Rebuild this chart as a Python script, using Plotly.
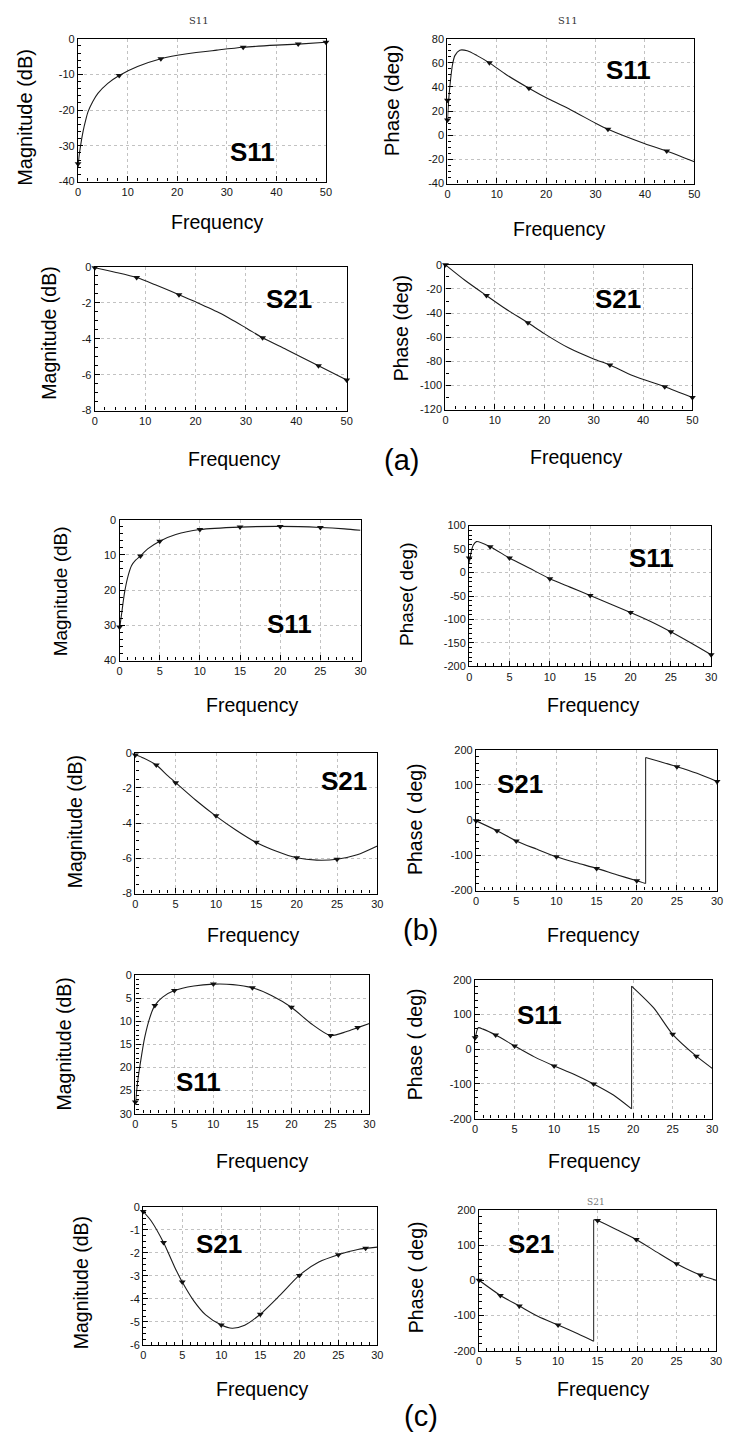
import plotly.graph_objects as go

W, H = 731, 1441

# ---------------- data ----------------
# (a) S11 magnitude
a_s11_mag_f = [0, 0.2, 0.5, 1, 1.5, 2, 3, 4, 6, 8.3, 12, 16.7, 22, 28, 33.3, 40, 44.4, 50]
a_s11_mag_v = [-36, -33, -30, -26, -23, -20.5, -17.5, -15.3, -12.5, -10.3, -7.8, -5.6, -4.2, -3.2, -2.4, -1.8, -1.5, -1.0]
a_s11_mag_mf = [0, 8.3, 16.7, 33.3, 44.4, 50]
a_s11_mag_mv = [-35, -10.3, -5.6, -2.4, -1.5, -1.0]
# (a) S11 phase
a_s11_ph_f = [0, 0.1, 0.3, 0.6, 1, 1.5, 2.5, 4, 6, 8.5, 12, 16.5, 20.5, 25, 30, 32.5, 40, 44.4, 50]
a_s11_ph_v = [12, 20, 32, 45, 58, 66, 70.5, 70, 66, 60, 50, 39, 30, 21, 10, 5, -7, -13, -22]
a_s11_ph_mf = [0, 0, 8.5, 16.5, 32.5, 44.4]
a_s11_ph_mv = [12.7, 29, 60, 39, 5, -13]
# (a) S21 magnitude
a_s21_mag_f = [0, 4, 8.3, 12, 16.7, 20, 25, 30, 33.3, 38, 44.4, 50]
a_s21_mag_v = [-0.05, -0.3, -0.6, -1.0, -1.55, -1.95, -2.6, -3.4, -3.95, -4.6, -5.5, -6.3]
a_s21_mag_mf = [0, 8.3, 16.7, 33.3, 44.4, 50]
a_s21_mag_mv = [-0.05, -0.6, -1.55, -3.95, -5.5, -6.3]
# (a) S21 phase
a_s21_ph_f = [0, 4, 8.3, 12, 16.7, 20, 25, 30, 33.3, 38, 44.4, 50]
a_s21_ph_v = [0, -13, -25.5, -36, -48, -57, -69, -78, -83, -92, -101, -110]
a_s21_ph_mf = [0, 8.3, 16.7, 33.3, 44.4, 50]
a_s21_ph_mv = [0, -25.5, -48, -83, -101, -110]

# (b) S11 magnitude
b_s11_mag_f = [0, 0.3, 0.6, 1, 1.5, 2, 2.6, 3.5, 5, 7, 10, 15, 20, 25, 28, 30]
b_s11_mag_v = [-31, -26, -21, -16.5, -13, -11.5, -10.3, -8.3, -6.1, -4.2, -2.8, -2.1, -1.9, -2.2, -2.6, -3.0]
b_s11_mag_mf = [0, 2.6, 5, 10, 15, 20, 25]
b_s11_mag_mv = [-30.5, -10.3, -6.1, -2.8, -2.1, -1.9, -2.2]
# (b) S11 phase
b_s11_ph_f = [0, 0.2, 0.5, 0.9, 2.6, 5, 7.5, 10, 12.5, 15, 17.5, 20, 22.5, 25, 27.5, 30]
b_s11_ph_v = [20, 40, 58, 66, 55, 31, 9, -13, -31, -49, -67, -85, -104, -126, -150, -175]
b_s11_ph_mf = [0, 2.6, 5, 10, 15, 20, 25, 30]
b_s11_ph_mv = [31, 55, 31, -13, -49, -85, -126, -175]
# (b) S21 magnitude
b_s21_mag_f = [0, 1, 2.6, 4, 5, 7.5, 10, 12.5, 15, 17.5, 20, 22.5, 25, 27.5, 30]
b_s21_mag_v = [-0.1, -0.3, -0.7, -1.3, -1.7, -2.7, -3.6, -4.4, -5.1, -5.6, -5.97, -6.1, -6.05, -5.8, -5.3]
b_s21_mag_mf = [0, 2.6, 5, 10, 15, 20, 25]
b_s21_mag_mv = [-0.13, -0.7, -1.7, -3.58, -5.08, -5.97, -6.05]
# (b) S21 phase (two branches, wrapped at +-180)
b_s21_ph_f1 = [0, 2.6, 5, 7.5, 10, 12.5, 15, 17.5, 20, 21.1]
b_s21_ph_v1 = [-2, -30, -59, -82, -104, -121, -137, -155, -172, -180]
b_s21_ph_f2 = [21.1, 25, 27.5, 30]
b_s21_ph_v2 = [178, 152, 133, 110]
b_s21_ph_mf = [0, 2.6, 5, 10, 15, 20, 25, 30]
b_s21_ph_mv = [-2, -30, -59, -104, -137, -172, 152, 110]

# (c) S11 magnitude
c_s11_mag_f = [0, 0.3, 0.6, 1.2, 2, 2.5, 3.5, 5, 7.5, 10, 12.5, 15, 17.5, 20, 22.5, 25, 27, 28.5, 30]
c_s11_mag_v = [-28, -23, -19.5, -13.5, -8.5, -6.6, -4.8, -3.4, -2.4, -2.0, -2.1, -2.8, -4.5, -7.0, -10.5, -13.1, -12.3, -11.4, -10.5]
c_s11_mag_mf = [0, 2.5, 5, 10, 15, 20, 25, 28.5]
c_s11_mag_mv = [-27.5, -6.6, -3.4, -2.0, -2.8, -7.0, -13.1, -11.4]
# (c) S11 phase
c_s11_ph_f1 = [0, 0.4, 1, 2.6, 5, 7.5, 10, 12.5, 15, 17.5, 19.8]
c_s11_ph_v1 = [30, 62, 58, 41, 9.5, -22, -48, -72, -100, -132, -172]
c_s11_ph_f2 = [19.8, 22.6, 25, 28, 30]
c_s11_ph_v2 = [182, 119, 43, -20, -55]
c_s11_ph_mf = [0, 2.6, 5, 10, 15, 25, 28]
c_s11_ph_mv = [33, 41, 9.5, -48, -100, 43, -20]
# (c) S21 magnitude
c_s21_mag_f = [0, 1, 2.6, 4, 5, 6.5, 8, 10, 11.4, 13, 15, 17.5, 20, 22.5, 25, 27.5, 30]
c_s21_mag_v = [-0.2, -0.6, -1.55, -2.6, -3.27, -4.1, -4.7, -5.14, -5.28, -5.15, -4.67, -3.85, -2.98, -2.4, -2.08, -1.85, -1.75]
c_s21_mag_mf = [0, 2.6, 5, 10, 15, 20, 25, 28.5]
c_s21_mag_mv = [-0.2, -1.55, -3.27, -5.14, -4.67, -2.98, -2.08, -1.8]
# (c) S21 phase
c_s21_ph_f1 = [0, 2.7, 5.1, 7.5, 10, 12.5, 14.5]
c_s21_ph_v1 = [0, -43, -73, -103, -127, -152, -173]
c_s21_ph_f2 = [14.5, 15, 17.5, 19.9, 22.5, 24.8, 28, 30]
c_s21_ph_v2 = [172, 170, 143, 116, 80, 49, 15, 0]
c_s21_ph_mf = [0, 2.7, 5.1, 10, 15, 19.9, 25, 28]
c_s21_ph_mv = [0, -43, -73, -127, 170, 116, 47, 15]

# ---------------- tick labels ----------------
freq50_vals = [0, 10, 20, 30, 40, 50]
freq50_text = ["0", "10", "20", "30", "40", "50"]
freq30_vals = [0, 5, 10, 15, 20, 25, 30]
freq30_text = ["0", "5", "10", "15", "20", "25", "30"]
a_mag11_vals = [0, -10, -20, -30, -40]
a_mag11_text = ["0", "-10", "-20", "-30", "-40"]
a_ph11_vals = [80, 60, 40, 20, 0, -20, -40]
a_ph11_text = ["80", "60", "40", "20", "0", "-20", "-40"]
mag8_vals = [0, -2, -4, -6, -8]
mag8_text = ["0", "-2", "-4", "-6", "-8"]
a_ph21_vals = [0, -20, -40, -60, -80, -100, -120]
a_ph21_text = ["0", "-20", "-40", "-60", "-80", "-100", "-120"]
b_mag11_vals = [0, -10, -20, -30, -40]
b_mag11_text = ["0", "10", "20", "30", "40"]
b_ph11_vals = [100, 50, 0, -50, -100, -150, -200]
b_ph11_text = ["100", "50", "0", "-50", "-100", "-150", "-200"]
ph200_vals = [200, 100, 0, -100, -200]
ph200_text = ["200", "100", "0", "-100", "-200"]
c_mag11_vals = [0, -5, -10, -15, -20, -25, -30]
c_mag11_text = ["0", "5", "10", "15", "20", "25", "30"]
c_mag21_vals = [0, -1, -2, -3, -4, -5, -6]
c_mag21_text = ["0", "-1", "-2", "-3", "-4", "-5", "-6"]

# ---------------- panels (layout in pixels) ----------------
panels = [
    dict(box=(76, 327, 33, 177), xr=[0, 50], yr=[-40, 0], xt=(freq50_vals, freq50_text), yt=(a_mag11_vals, a_mag11_text),
         xm=2, ym=2, curves=[(a_s11_mag_f, a_s11_mag_v)], marks=(a_s11_mag_mf, a_s11_mag_mv),
         ylab=("Magnitude (dB)", 22, 112, 20), flab=(217, 218), big=("S11", 253, 147), title=("S11", 198, 15)),
    dict(box=(450, 700, 33, 179), xr=[0, 50], yr=[-40, 80], xt=(freq50_vals, freq50_text), yt=(a_ph11_vals, a_ph11_text),
         xm=2, ym=5, curves=[(a_s11_ph_f, a_s11_ph_v)], marks=(a_s11_ph_mf, a_s11_ph_mv),
         ylab=("Phase (deg)", 393, 95, 20.5), flab=(563, 225), big=("S11", 633, 65), title=("S11", 572, 15)),
    dict(box=(93, 348, 263, 408), xr=[0, 50], yr=[-8, 0], xt=(freq50_vals, freq50_text), yt=(mag8_vals, mag8_text),
         xm=2, ym=0.5, curves=[(a_s21_mag_f, a_s21_mag_v)], marks=(a_s21_mag_mf, a_s21_mag_mv),
         ylab=("Magnitude (dB)", 47, 330, 19.5), flab=(234, 457), big=("S21", 290, 295)),
    dict(box=(448, 698, 261, 407), xr=[0, 50], yr=[-120, 0], xt=(freq50_vals, freq50_text), yt=(a_ph21_vals, a_ph21_text),
         xm=2, ym=10, curves=[(a_s21_ph_f, a_s21_ph_v)], marks=(a_s21_ph_mf, a_s21_ph_mv),
         ylab=("Phase (deg)", 403, 325, 19.5), flab=(580, 455), big=("S21", 623, 295)),
    dict(box=(118, 362, 518, 660), xr=[0, 30], yr=[-40, 0], xt=(freq30_vals, freq30_text), yt=(b_mag11_vals, b_mag11_text),
         xm=1, ym=2, curves=[(b_s11_mag_f, b_s11_mag_v)], marks=(b_s11_mag_mf, b_s11_mag_mv),
         ylab=("Magnitude (dB)", 58, 590, 19), flab=(252, 705), big=("S11", 290, 623)),
    dict(box=(472, 717, 524, 666), xr=[0, 30], yr=[-200, 100], xt=(freq30_vals, freq30_text), yt=(b_ph11_vals, b_ph11_text),
         xm=1, ym=10, curves=[(b_s11_ph_f, b_s11_ph_v)], marks=(b_s11_ph_mf, b_s11_ph_mv),
         ylab=("Phase( deg)", 408, 593, 19), flab=(597, 705), big=("S11", 657, 557)),
    dict(box=(134, 379, 753, 895), xr=[0, 30], yr=[-8, 0], xt=(freq30_vals, freq30_text), yt=(mag8_vals, mag8_text),
         xm=1, ym=0.5, curves=[(b_s21_mag_f, b_s21_mag_v)], marks=(b_s21_mag_mf, b_s21_mag_mv),
         ylab=("Magnitude (dB)", 73, 823, 19.5), flab=(253, 937), big=("S21", 345, 782)),
    dict(box=(479, 723, 750, 892), xr=[0, 30], yr=[-200, 200], xt=(freq30_vals, freq30_text), yt=(ph200_vals, ph200_text),
         xm=1, ym=20, curves=[(b_s21_ph_f1, b_s21_ph_v1), (b_s21_ph_f2, b_s21_ph_v2)], marks=(b_s21_ph_mf, b_s21_ph_mv),
         ylab=("Phase ( deg)", 417, 820, 19.5), flab=(597, 937), big=("S21", 523, 785)),
    dict(box=(134, 371, 977, 1117), xr=[0, 30], yr=[-30, 0], xt=(freq30_vals, freq30_text), yt=(c_mag11_vals, c_mag11_text),
         xm=1, ym=1, curves=[(c_s11_mag_f, c_s11_mag_v)], marks=(c_s11_mag_mf, c_s11_mag_mv),
         ylab=("Magnitude (dB)", 62, 1047, 19.5), flab=(262, 1165), big=("S11", 198, 1085)),
    dict(box=(478, 718, 982, 1122), xr=[0, 30], yr=[-200, 200], xt=(freq30_vals, freq30_text), yt=(ph200_vals, ph200_text),
         xm=1, ym=20, curves=[(c_s11_ph_f1, c_s11_ph_v1), (c_s11_ph_f2, c_s11_ph_v2)], marks=(c_s11_ph_mf, c_s11_ph_mv),
         ylab=("Phase ( deg)", 417, 1047, 19.5), flab=(598, 1165), big=("S11", 543, 1017)),
    dict(box=(142, 379, 1211, 1350), xr=[0, 30], yr=[-6, 0], xt=(freq30_vals, freq30_text), yt=(c_mag21_vals, c_mag21_text),
         xm=1, ym=0.25, curves=[(c_s21_mag_f, c_s21_mag_v)], marks=(c_s21_mag_mf, c_s21_mag_mv),
         ylab=("Magnitude (dB)", 79, 1288, 19.5), flab=(262, 1395), big=("S21", 219, 1248)),
    dict(box=(482, 722, 1214, 1356), xr=[0, 30], yr=[-200, 200], xt=(freq30_vals, freq30_text), yt=(ph200_vals, ph200_text),
         xm=1, ym=20, curves=[(c_s21_ph_f1, c_s21_ph_v1), (c_s21_ph_f2, c_s21_ph_v2)], marks=(c_s21_ph_mf, c_s21_ph_mv),
         ylab=("Phase ( deg)", 418, 1282, 19.5), flab=(607, 1395), big=("S21", 535, 1248)),
]

FONT = "Liberation Sans, Arial, sans-serif"
LINE = "#1c1c1c"


def fx(px):
    return px / W


def fy(py):
    return 1 - py / H


fig = go.Figure()
annotations = []
layout_axes = {}

for i, p in enumerate(panels, start=1):
    sfx = "" if i == 1 else str(i)
    xref, yref = "x" + sfx, "y" + sfx
    l, r, t, b = p["box"]
    curves = p["curves"]
    for (cf, cv) in curves:
        fig.add_trace(go.Scatter(x=cf, y=cv, mode="lines", xaxis=xref, yaxis=yref, showlegend=False,
                                 line=dict(color=LINE, width=1.1, shape="spline", smoothing=0.7),
                                 hoverinfo="skip"))
    if len(curves) == 2:
        # vertical phase-wrap connector
        fig.add_trace(go.Scatter(x=[curves[0][0][-1], curves[1][0][0]], y=[curves[0][1][-1], curves[1][1][0]],
                                 mode="lines", xaxis=xref, yaxis=yref, showlegend=False,
                                 line=dict(color="#333333", width=1.1), hoverinfo="skip"))
    mf, mv = p["marks"]
    fig.add_trace(go.Scatter(x=mf, y=mv, mode="markers", xaxis=xref, yaxis=yref, showlegend=False,
                             marker=dict(symbol="triangle-down", size=6, color="#111111"), cliponaxis=False))

    common = dict(showline=True, mirror=True, linecolor="black", linewidth=1.4,
                  ticks="inside", ticklen=5, tickwidth=1, tickcolor="black",
                  tickmode="array", showgrid=True, gridcolor="#c2c2c2", griddash="dot", gridwidth=1,
                  zeroline=False, fixedrange=True,
                  tickfont=dict(family=FONT, size=11, color="#151515"))
    layout_axes["xaxis" + sfx] = dict(common, domain=[fx(l), fx(r)], range=p["xr"], anchor=yref,
                                      tickvals=p["xt"][0], ticktext=p["xt"][1],
                                      minor=dict(ticks="inside", ticklen=3, tickcolor="black", tickmode="linear",
                                                 tick0=0, dtick=p["xm"], showgrid=False))
    layout_axes["yaxis" + sfx] = dict(common, domain=[fy(b), fy(t)], range=p["yr"], anchor=xref,
                                      tickvals=p["yt"][0], ticktext=p["yt"][1],
                                      minor=dict(ticks="inside", ticklen=3, tickcolor="black", tickmode="linear",
                                                 tick0=0, dtick=p["ym"], showgrid=False))

    txt, ax_, ay_, fs = p["ylab"]
    annotations.append(dict(text=txt, x=fx(ax_), y=fy(ay_), xref="paper", yref="paper", showarrow=False,
                            textangle=-90, xanchor="center", yanchor="middle",
                            font=dict(family=FONT, size=fs, color="black")))
    fxp, fyp = p["flab"]
    annotations.append(dict(text="Frequency", x=fx(fxp), y=fy(fyp), xref="paper", yref="paper", showarrow=False,
                            xanchor="center", yanchor="middle", font=dict(family=FONT, size=19.5, color="black")))
    btxt, bx, by = p["big"]
    annotations.append(dict(text="<b>" + btxt + "</b>", x=fx(bx), y=fy(by), xref="paper", yref="paper",
                            showarrow=False, xanchor="center", yanchor="middle",
                            font=dict(family=FONT, size=26, color="black")))
    if "title" in p:
        ttxt, tx, ty = p["title"]
        annotations.append(dict(text=ttxt, x=fx(tx), y=fy(ty), xref="paper", yref="paper", showarrow=False,
                                xanchor="center", yanchor="middle",
                                font=dict(family="DejaVu Serif, serif", size=10, color="#333333")))

# panel letters and a faint cut-off title
for txt, x, y in [("(a)", 403, 458), ("(b)", 423, 932), ("(c)", 423, 1422)]:
    annotations.append(dict(text=txt, x=fx(x), y=fy(y), xref="paper", yref="paper", showarrow=False,
                            xanchor="center", yanchor="middle", font=dict(family=FONT, size=29, color="black")))
annotations.append(dict(text="S21", x=fx(600), y=fy(1206), xref="paper", yref="paper", showarrow=False,
                        xanchor="center", yanchor="middle", font=dict(family="DejaVu Serif, serif", size=9, color="#777777")))

fig.update_layout(width=W, height=H, margin=dict(l=0, r=0, t=0, b=0),
                  paper_bgcolor="white", plot_bgcolor="white", annotations=annotations, **layout_axes)

fig.write_html("out.html")
